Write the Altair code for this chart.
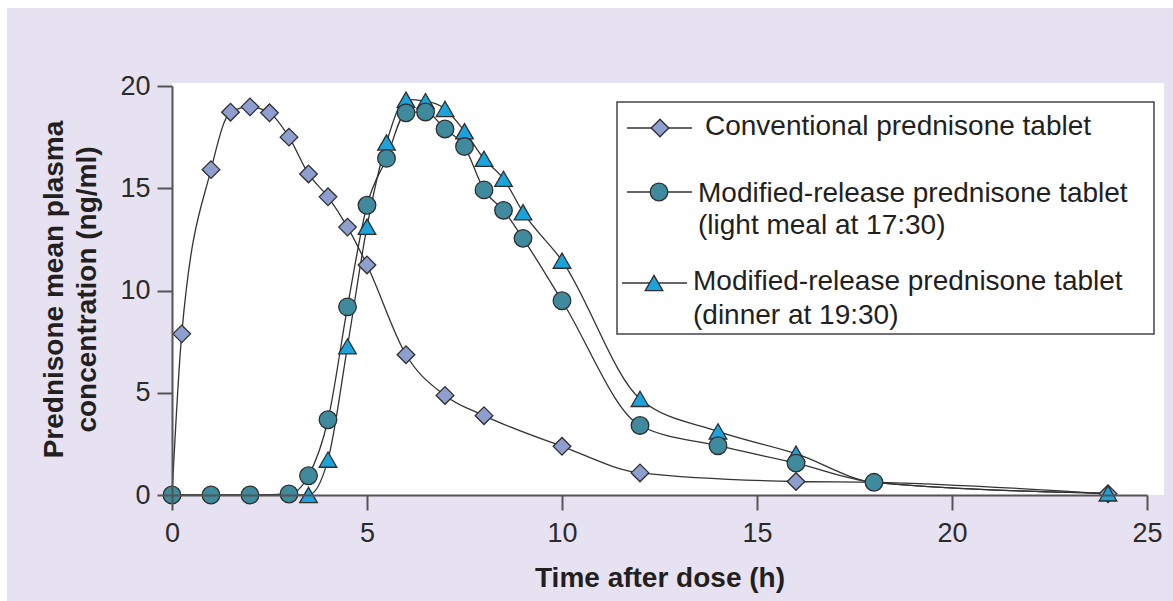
import altair as alt
import pandas as pd

# Mean plasma prednisone concentration (ng/ml) against time after dose (h)
conv_time = [0, 0.25, 1, 1.5, 2, 2.5, 3, 3.5, 4, 4.5, 5, 6, 7, 8, 10, 12, 16, 18, 24]
conv_conc = [0, 7.88, 15.91, 18.72, 18.98, 18.69, 17.5, 15.7, 14.58, 13.1, 11.25,
             6.86, 4.87, 3.88, 2.38, 1.08, 0.66, 0.62, 0.06]
conv_marked = [0, 1, 1, 1, 1, 1, 1, 1, 1, 1, 1, 1, 1, 1, 1, 1, 1, 0, 1]

light_time = [0, 1, 2, 3, 3.5, 4, 4.5, 5, 5.5, 6, 6.5, 7, 7.5, 8, 8.5, 9, 10, 12, 14, 16, 18, 24]
light_conc = [0, 0, 0, 0.05, 0.94, 3.68, 9.2, 14.17, 16.46, 18.69, 18.73, 17.9, 17.04,
              14.92, 13.92, 12.55, 9.5, 3.4, 2.41, 1.56, 0.62, 0.08]
light_marked = [1] * 21 + [0]

dinner_time = [0, 1, 2, 3, 3.5, 4, 4.5, 5, 5.5, 6, 6.5, 7, 7.5, 8, 8.5, 9, 10, 12, 14, 16, 18, 24]
dinner_conc = [0, 0, 0, 0, 0, 1.73, 7.27, 13.12, 17.24, 19.33, 19.26, 18.88, 17.79,
               16.44, 15.46, 13.83, 11.46, 4.7, 3.11, 2.02, 0.62, 0.08]
dinner_marked = [0, 0, 0, 0] + [1] * 16 + [0, 1]

series_names = [
    "Conventional prednisone tablet",
    "Modified-release prednisone tablet (light meal at 17:30)",
    "Modified-release prednisone tablet (dinner at 19:30)",
]
legend_lines = [
    ["Conventional prednisone tablet"],
    ["Modified-release prednisone tablet", "(light meal at 17:30)"],
    ["Modified-release prednisone tablet", "(dinner at 19:30)"],
]
x_ticks = [0, 5, 10, 15, 20, 25]
y_ticks = [0, 5, 10, 15, 20]

# Marker styling per series: (shape, fill)
styles = [("diamond", "#8D9ECF"), ("circle", "#3F8A9D"), ("triangle-up", "#1DA3DC")]

W, H = 975, 409
FONT = "Liberation Sans"
INK = "#231F20"
AXIS = "#555555"
BG = "#E7E2F1"

frames = []
for name, t, c, m in [
    (series_names[0], conv_time, conv_conc, conv_marked),
    (series_names[1], light_time, light_conc, light_marked),
    (series_names[2], dinner_time, dinner_conc, dinner_marked),
]:
    frames.append(pd.DataFrame({"time": t, "conc": c, "marked": m, "series": name}))
df = pd.concat(frames, ignore_index=True)

x_enc = alt.X(
    "time:Q",
    scale=alt.Scale(domain=[0, 25], nice=False, zero=False),
    axis=alt.Axis(
        values=x_ticks, grid=False, zindex=1, labelFlush=False,
        domainColor=AXIS, domainWidth=2, tickColor=AXIS, tickWidth=2, tickSize=15,
        labelFont=FONT, labelFontSize=27, labelColor="#2b2b2b", labelPadding=10,
        title="Time after dose (h)", titleFont=FONT, titleFontSize=28,
        titleFontWeight="bold", titleColor=INK, titleBaseline="alphabetic", titleY=91,
    ),
)
y_enc = alt.Y(
    "conc:Q",
    scale=alt.Scale(domain=[0, 20], nice=False),
    axis=alt.Axis(
        values=y_ticks, grid=False, zindex=1, labelFlush=False,
        domainColor=AXIS, domainWidth=2, tickColor=AXIS, tickWidth=2, tickSize=15,
        labelFont=FONT, labelFontSize=27, labelColor="#2b2b2b", labelPadding=7,
        title=["Prednisone mean plasma", "concentration (ng/ml)"],
        titleFont=FONT, titleFontSize=28, titleFontWeight="bold", titleColor=INK,
        titleLineHeight=33, titleAngle=270, titleBaseline="middle",
        titleAlign="center", titleX=-118, titleY=203,
    ),
)

one = pd.DataFrame({"k": [0]})

# Lavender frame behind everything, white plotting panel on top of it
frame_bg = alt.Chart(one).mark_rect(fill=BG).encode(
    x=alt.value(-165), x2=alt.value(1001), y=alt.value(-78), y2=alt.value(515)
)
panel = alt.Chart(one).mark_rect(fill="white").encode(
    x=alt.value(0), x2=alt.value(992), y=alt.value(-3), y2=alt.value(H)
)

lines = alt.Chart(df).mark_line(
    interpolate="monotone", color="#333333", strokeWidth=1.3
).encode(x=x_enc, y=y_enc, detail="series:N")


def markers(name, shape, fill):
    return (
        alt.Chart(df)
        .transform_filter((alt.datum.series == name) & (alt.datum.marked == 1))
        .mark_point(shape=shape, filled=True, fill=fill, stroke="#2e2e2e",
                    strokeWidth=1.3, size=310, opacity=1)
        .encode(x="time:Q", y="conc:Q")
    )


pts_conv = markers(series_names[0], *styles[0])
pts_dinner = markers(series_names[2], *styles[2])
pts_light = markers(series_names[1], *styles[1])

# Legend box with line-and-marker keys
legend_layers = [
    alt.Chart(one).mark_rect(fill="white", stroke="#444444", strokeWidth=1.5).encode(
        x=alt.value(445), x2=alt.value(982), y=alt.value(16), y2=alt.value(248)
    )
]
key_x = [(455, 520, 488), (455, 520, 487), (450, 515, 482)]
key_y = [42, 106, 197]
text_x = [533, 526, 521]
text_base = [[49], [116, 148], [204, 238]]
for i, (shape, fill) in enumerate(styles):
    x0, x1, xm = key_x[i]
    legend_layers.append(
        alt.Chart(one).mark_rule(color="#333333", strokeWidth=1.5).encode(
            x=alt.value(x0), x2=alt.value(x1), y=alt.value(key_y[i])
        )
    )
    legend_layers.append(
        alt.Chart(one).mark_point(shape=shape, filled=True, fill=fill, stroke="#2e2e2e",
                                  strokeWidth=1.3, size=310, opacity=1).encode(
            x=alt.value(xm), y=alt.value(key_y[i])
        )
    )
    for line, base in zip(legend_lines[i], text_base[i]):
        legend_layers.append(
            alt.Chart(pd.DataFrame({"label": [line]})).mark_text(
                font=FONT, fontSize=28, color=INK, align="left", baseline="alphabetic"
            ).encode(x=alt.value(text_x[i]), y=alt.value(base), text="label:N")
        )

chart = alt.layer(
    frame_bg, panel, lines, pts_conv, pts_dinner, pts_light, *legend_layers
).properties(
    width=W, height=H,
    padding={"left": 172, "top": 86, "right": 26, "bottom": 106},
    autosize=alt.AutoSizeParams(type="none"),
).configure(
    background="white"
).configure_view(stroke=None)

chart.save("out.html", embed_options={"renderer": "svg", "actions": False})
